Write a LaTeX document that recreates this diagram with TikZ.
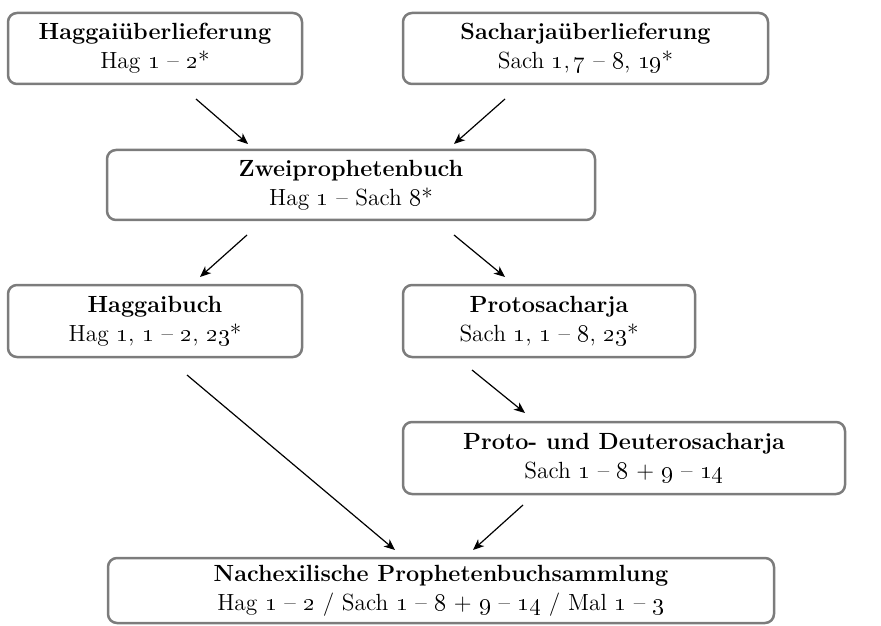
\documentclass[tikz,border=0pt]{standalone}
\usetikzlibrary{arrows.meta,calc}
\newcommand{\osf}[1]{\oldstylenums{#1}}
\definecolor{boxgray}{HTML}{7C7C7C}
\begin{document}
\begin{tikzpicture}[x=0.5pt,y=-0.5pt,
  box/.style={draw=boxgray, line width=1.25pt, rounded corners=4.5pt, align=center,
    inner sep=0pt, outer sep=0pt, font=\fontsize{11.7}{14.5}\selectfont},
  arr/.style={draw=black, line width=0.6pt, -{Stealth[length=5.5pt,width=4.6pt,inset=1.6pt]}}]
\useasboundingbox (0,0) rectangle (881,625);
\node[box, minimum width=147pt, minimum height=35.5pt] (hu) at (155,48.5)
  {\textbf{Haggaiüberlieferung}\\Hag \osf{1} -- \osf{2}*};
\node[box, minimum width=182.5pt, minimum height=35.5pt] (su) at (585.5,48.5)
  {\textbf{Sacharjaüberlieferung}\\Sach \osf{1},\,\osf{7} -- \osf{8}, \osf{19}*};
\node[box, minimum width=244pt, minimum height=35pt] (zw) at (351,185)
  {\textbf{Zweiprophetenbuch}\\Hag \osf{1} -- Sach \osf{8}*};
\node[box, minimum width=147pt, minimum height=36pt] (hb) at (155,321)
  {\textbf{Haggaibuch}\\Hag \osf{1}, \osf{1} -- \osf{2}, \osf{23}*};
\node[box, minimum width=146pt, minimum height=36pt] (ps) at (549,321)
  {\textbf{Protosacharja}\\Sach \osf{1}, \osf{1} -- \osf{8}, \osf{23}*};
\node[box, minimum width=221pt, minimum height=36pt] (pd) at (624,458)
  {\textbf{Proto- und Deuterosacharja}\\Sach \osf{1} -- \osf{8} + \osf{9} -- \osf{14}};
\node[box, minimum width=333pt, minimum height=32.5pt] (na) at (441,590.5)
  {\textbf{Nachexilische Prophetenbuchsammlung}\\Hag \osf{1} -- \osf{2} / Sach \osf{1} -- \osf{8} + \osf{9} -- \osf{14} / Mal \osf{1} -- \osf{3}};
\draw[arr] ($(hu.south)+(41,15)$) -- ($(zw.north)+(-103,-6)$);
\draw[arr] ($(su.south)+(-80.5,15)$) -- ($(zw.north)+(103,-6)$);
\draw[arr] ($(zw.south)+(-104,15)$) -- ($(hb.north)+(45,-8)$);
\draw[arr] ($(zw.south)+(103,15)$) -- ($(ps.north)+(-44,-8)$);
\draw[arr] ($(ps.south)+(-77,13)$) -- ($(pd.north)+(-99,-9)$);
\draw[arr] ($(hb.south)+(32,18)$) -- ($(na.north)+(-46,-8)$);
\draw[arr] ($(pd.south)+(-101,11)$) -- ($(na.north)+(32,-8)$);
\end{tikzpicture}
\end{document}
